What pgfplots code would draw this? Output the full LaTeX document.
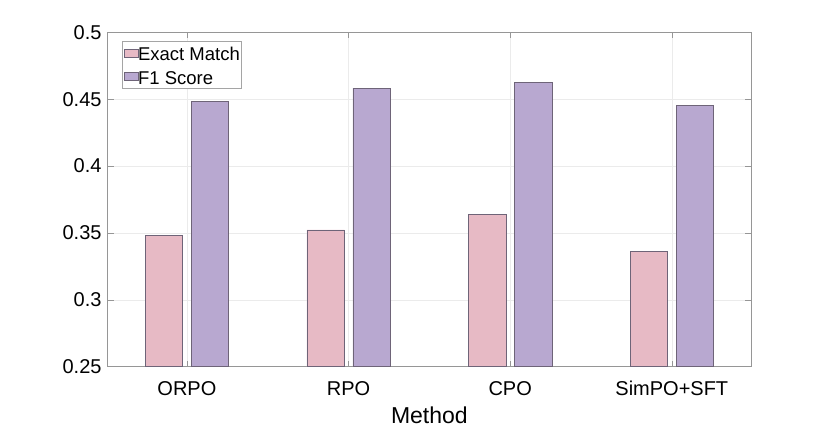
\documentclass[border=0pt]{standalone}
\usepackage{pgfplots}
\pgfplotsset{compat=1.18}
\usepackage{fontspec}
\setmainfont{Liberation Sans}
\definecolor{pinkbar}{RGB}{231,186,197}
\definecolor{purplebar}{RGB}{184,168,208}
\definecolor{baredge}{RGB}{110,100,120}
\definecolor{framegray}{RGB}{150,150,150}
\definecolor{legendgray}{RGB}{165,165,165}
\definecolor{gridgray}{RGB}{235,235,235}
\pgfplotsset{mylegend/.style={legend image code/.code={\draw[##1, line width=0.5bp] (0bp,-3.7bp) rectangle (14bp,3.7bp);}}}
\begin{document}
\begin{tikzpicture}[x=1bp,y=1bp]
\path[use as bounding box] (0,0) rectangle (830,428);
\begin{axis}[
 at={(107.7bp,61.3bp)}, anchor=south west,
 scale only axis, width=643.3bp, height=334.4bp,
 xmin=-0.49, xmax=3.49, ymin=0.25, ymax=0.5,
 xtick={0,1,2,3}, xticklabels={ORPO,RPO,CPO,SimPO+SFT},
 ytick={0.25,0.3,0.35,0.4,0.45,0.5}, yticklabels={0.25,0.3,0.35,0.4,0.45,0.5},
 tick align=inside, major tick length=6bp,
 tick style={framegray, line width=0.5bp},
 axis line style={framegray, line width=0.6bp},
 grid=major, major grid style={gridgray, line width=0.5bp},
 ticklabel style={font=\fontsize{20bp}{24bp}\selectfont, text=black},
 yticklabel style={inner xsep=0pt, xshift=-6bp},
 xticklabel style={inner ysep=0pt, text height=14.3bp, yshift=-14bp},
 xlabel={Method},
 xlabel style={font=\fontsize{23bp}{27bp}\selectfont, at={(axis description cs:0.5,0)}, anchor=base, yshift=-56.3bp},
 legend style={at={(0.0227,0.9749)}, anchor=north west, draw=legendgray, line width=0.5bp, fill=white,
   inner xsep=1bp, inner ysep=2bp, row sep=3bp,
   font=\fontsize{18.5bp}{22bp}\selectfont,
   nodes={inner sep=0pt, text height=18bp, text depth=2.3bp},
   /tikz/every even column/.append style={column sep=0.7bp}},
 legend cell align=left,
]
\addplot[ybar, mylegend, bar width=0.231, bar shift=-0.142, fill=pinkbar, draw=baredge, line width=0.5bp]
 coordinates {(0,0.3484) (1,0.3522) (2,0.3639) (3,0.3363)};
\addlegendentry{Exact Match}
\addplot[ybar, mylegend, bar width=0.231, bar shift=0.142, fill=purplebar, draw=baredge, line width=0.5bp]
 coordinates {(0,0.4486) (1,0.4583) (2,0.4628) (3,0.4456)};
\addlegendentry{F1 Score}
\end{axis}
\end{tikzpicture}
\end{document}
